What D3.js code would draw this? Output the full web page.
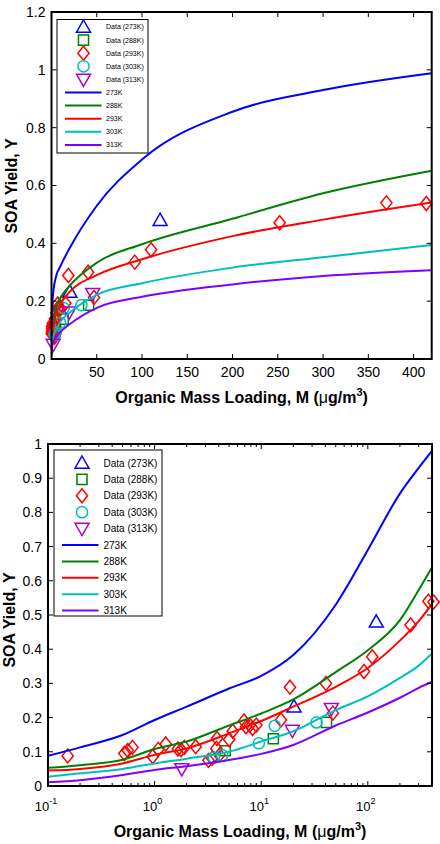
<!DOCTYPE html>
<html>
<head>
<meta charset="utf-8">
<script src="https://cdn.jsdelivr.net/npm/d3@7"></script>
<style>
body { margin: 0; background: #fff; }
svg { display: block; font-family: "Liberation Sans", Arial, sans-serif; }
</style>
</head>
<body>
<script>
// fitted curves at these loadings
const curveM = [0.1, 0.2, 0.5, 1, 2, 5, 10, 20, 50, 100, 200, 300, 420];
const fit273 = [0.088, 0.113, 0.149, 0.193, 0.232, 0.285, 0.322, 0.383, 0.53, 0.69, 0.855, 0.93, 0.988];
const fit288 = [0.053, 0.061, 0.077, 0.108, 0.13, 0.177, 0.212, 0.253, 0.333, 0.397, 0.485, 0.573, 0.651];
const fit293 = [0.045, 0.05, 0.066, 0.091, 0.11, 0.154, 0.19, 0.232, 0.29, 0.345, 0.425, 0.482, 0.541];
const fit303 = [0.027, 0.037, 0.05, 0.066, 0.08, 0.1, 0.13, 0.16, 0.222, 0.262, 0.316, 0.352, 0.394];
const fit313 = [0.011, 0.017, 0.032, 0.047, 0.058, 0.076, 0.094, 0.12, 0.177, 0.215, 0.258, 0.287, 0.307];

// measured yields
const data273M = [20.3, 120];
const data273Y = [0.232, 0.48];
const data288M = [4.6, 13, 41];
const data288Y = [0.103, 0.138, 0.186];
const data293M = [0.153, 0.52, 0.56, 0.62, 0.96, 1.08, 1.27, 1.65, 1.77, 1.9, 2.43, 3.2, 3.46, 3.8, 3.85, 4.06,
                  5.0, 5.4, 6.9, 7.2, 7.8, 8.3, 9.0, 15.3, 18.6, 40.5, 47, 92, 110, 252, 370, 414];
const data293Y = [0.088, 0.095, 0.104, 0.113, 0.086, 0.107, 0.123, 0.108, 0.106, 0.113, 0.115, 0.075, 0.081, 0.11, 0.139, 0.091,
                  0.136, 0.16, 0.19, 0.173, 0.178, 0.168, 0.178, 0.193, 0.289, 0.3, 0.213, 0.335, 0.378, 0.471, 0.54, 0.538];
const data303M = [3.6, 4.3, 9.5, 13.4, 33];
const data303Y = [0.083, 0.09, 0.125, 0.176, 0.186];
const data313M = [1.8, 19.6, 45.5];
const data313Y = [0.05, 0.162, 0.226];

const temps = ["273K", "288K", "293K", "303K", "313K"];
const lineColors = ["#0000ff", "#008000", "#ff0000", "#00bfbf", "#8000ff"];
const markColors = ["#0000ff", "#008000", "#ff0000", "#00bfbf", "#b000c8"];
const markShapes = ["triUp", "square", "diamond", "circle", "triDown"];

const fits = [fit273, fit288, fit293, fit303, fit313];
const datasets = [
  [data273M, data273Y], [data288M, data288Y], [data293M, data293Y], [data303M, data303Y], [data313M, data313Y]
];

function markerPath(shape, s) {
  if (shape === "triUp") return `M0,${-s}L${s},${s * 0.75}L${-s},${s * 0.75}Z`;
  if (shape === "triDown") return `M0,${s}L${s},${-s * 0.75}L${-s},${-s * 0.75}Z`;
  if (shape === "square") return `M${-s * 0.72},${-s * 0.72}H${s * 0.72}V${s * 0.72}H${-s * 0.72}Z`;
  if (shape === "diamond") return `M0,${-s}L${s * 0.8},0L0,${s}L${-s * 0.8},0Z`;
  const r = s * 0.8;
  return `M${r},0A${r},${r} 0 1,1 ${-r},0A${r},${r} 0 1,1 ${r},0Z`;
}

const svg = d3.select("body").append("svg").attr("width", 440).attr("height", 844);

function drawPanel(cfg, idx) {
  const { x, y, left, right, top, bottom } = cfg;
  const g = svg.append("g");
  const clipId = "clip" + idx;
  g.append("clipPath").attr("id", clipId)
    .append("rect").attr("x", left).attr("y", top).attr("width", right - left).attr("height", bottom - top);

  // data markers
  datasets.forEach(([ms, ys], i) => {
    g.append("g").selectAll("path").data(ms.map((m, j) => [m, ys[j]])).join("path")
      .attr("transform", d => `translate(${x(d[0])},${y(d[1])})`)
      .attr("d", markerPath(markShapes[i], 7))
      .attr("fill", "none").attr("stroke", markColors[i]).attr("stroke-width", 1.5);
  });

  // fitted curves
  const line = d3.line().x(d => x(d[0])).y(d => y(d[1])).curve(d3.curveMonotoneX);
  fits.forEach((f, i) => {
    g.append("path").attr("clip-path", `url(#${clipId})`)
      .attr("d", line(curveM.map((m, j) => [m, f[j]])))
      .attr("fill", "none").attr("stroke", lineColors[i]).attr("stroke-width", 2);
  });

  // frame and inward ticks
  const tk = g.append("g").attr("stroke", "#000");
  cfg.xMajor.forEach(v => {
    tk.append("line").attr("x1", x(v)).attr("x2", x(v)).attr("y1", bottom).attr("y2", bottom - 5);
    tk.append("line").attr("x1", x(v)).attr("x2", x(v)).attr("y1", top).attr("y2", top + 5);
  });
  (cfg.xMinor || []).forEach(v => {
    tk.append("line").attr("x1", x(v)).attr("x2", x(v)).attr("y1", bottom).attr("y2", bottom - 3);
    tk.append("line").attr("x1", x(v)).attr("x2", x(v)).attr("y1", top).attr("y2", top + 3);
  });
  cfg.yTicks.forEach(v => {
    tk.append("line").attr("y1", y(v)).attr("y2", y(v)).attr("x1", left).attr("x2", left + 5);
    tk.append("line").attr("y1", y(v)).attr("y2", y(v)).attr("x1", right).attr("x2", right - 5);
  });
  g.append("rect").attr("x", left).attr("y", top).attr("width", right - left).attr("height", bottom - top)
    .attr("fill", "none").attr("stroke", "#000").attr("stroke-width", 2);

  // tick labels
  g.append("g").selectAll("text").data(cfg.yTicks).join("text")
    .attr("x", left - 6).attr("y", d => y(d)).attr("dy", "0.35em")
    .attr("text-anchor", "end").attr("font-size", 14).text(d => cfg.yFmt(d));
  const xl = g.append("g").selectAll("text").data(cfg.xMajor).join("text")
    .attr("x", d => x(d) - (cfg.log ? 2 : 0)).attr("y", bottom + (cfg.log ? 25 : 18))
    .attr("text-anchor", "middle").attr("font-size", cfg.log ? 13 : 14);
  if (cfg.log) {
    xl.each(function (d) {
      const t = d3.select(this);
      t.append("tspan").text("10");
      t.append("tspan").attr("dy", -7).attr("font-size", 9).text(Math.round(Math.log10(d)));
    });
  } else {
    xl.text(d => d);
  }

  // axis titles
  const xt = g.append("text").attr("x", (left + right) / 2).attr("y", cfg.xTitleY)
    .attr("text-anchor", "middle").attr("font-size", 16).attr("font-weight", "bold");
  xt.append("tspan").text("Organic Mass Loading, M (");
  xt.append("tspan").attr("font-weight", "normal").text("\u03bc");
  xt.append("tspan").text("g/m");
  xt.append("tspan").attr("dy", -7).attr("font-size", 11).text("3");
  xt.append("tspan").attr("dy", 7).text(")");

  g.append("text").attr("transform", `translate(${cfg.yTitleX},${cfg.yTitleY}) rotate(-90)`)
    .attr("text-anchor", "middle").attr("font-size", 16).attr("font-weight", "bold").text("SOA Yield, Y");

  // legend
  const L = cfg.legend;
  const lg = g.append("g");
  lg.append("rect").attr("x", L.x0).attr("y", L.y0).attr("width", L.x1 - L.x0).attr("height", L.y1 - L.y0)
    .attr("fill", "#fff").attr("stroke", "#000").attr("stroke-width", 1);
  temps.forEach((t, i) => {
    const yy = L.first + i * L.step;
    lg.append("path").attr("transform", `translate(${L.mark},${yy})`)
      .attr("d", markerPath(markShapes[i], 7))
      .attr("fill", "none").attr("stroke", markColors[i]).attr("stroke-width", 1.5);
    lg.append("text").attr("x", L.text).attr("y", yy).attr("dy", "0.35em")
      .attr("font-size", L.fs).text(`Data (${t})`);
  });
  temps.forEach((t, i) => {
    const yy = L.first + (i + 5) * L.step;
    lg.append("line").attr("x1", L.lx0).attr("x2", L.lx1).attr("y1", yy).attr("y2", yy)
      .attr("stroke", lineColors[i]).attr("stroke-width", 2);
    lg.append("text").attr("x", L.text).attr("y", yy).attr("dy", "0.35em")
      .attr("font-size", L.fs).text(t);
  });
}

// top panel: linear loading axis
const topLeft = 51.5, topRight = 431.7, topTop = 12, topBottom = 359;
drawPanel({
  x: d3.scaleLinear().domain([0, 420]).range([topLeft, topRight]),
  y: d3.scaleLinear().domain([0, 1.2]).range([topBottom, topTop]),
  left: topLeft, right: topRight, top: topTop, bottom: topBottom,
  xMajor: [50, 100, 150, 200, 250, 300, 350, 400],
  yTicks: [0, 0.2, 0.4, 0.6, 0.8, 1, 1.2],
  yFmt: d => d3.format("~g")(d),
  xTitleY: 403, yTitleX: 17, yTitleY: 186,
  legend: { x0: 57, x1: 148, y0: 19.5, y1: 153, first: 27, step: 13.1, mark: 83.5, lx0: 65, lx1: 101.5, text: 106, fs: 7 }
}, 0);

// bottom panel: log loading axis
const botLeft = 48, botRight = 432, botTop = 444, botBottom = 786;
const minorTicks = [];
[0.1, 1, 10, 100].forEach(dec => { for (let k = 2; k <= 9; k++) if (dec * k <= 400) minorTicks.push(dec * k); });
drawPanel({
  x: d3.scaleLog().domain([0.1, 400]).range([botLeft, botRight]),
  y: d3.scaleLinear().domain([0, 1]).range([botBottom, botTop]),
  left: botLeft, right: botRight, top: botTop, bottom: botBottom, log: true,
  xMajor: [0.1, 1, 10, 100],
  xMinor: minorTicks,
  yTicks: [0, 0.1, 0.2, 0.3, 0.4, 0.5, 0.6, 0.7, 0.8, 0.9, 1],
  yFmt: d => d3.format("~g")(d),
  xTitleY: 837, yTitleX: 15, yTitleY: 620,
  legend: { x0: 54, x1: 162, y0: 450, y1: 616, first: 463, step: 16.4, mark: 82, lx0: 62, lx1: 98.5, text: 103.5, fs: 10 }
}, 1);
</script>
</body>
</html>
